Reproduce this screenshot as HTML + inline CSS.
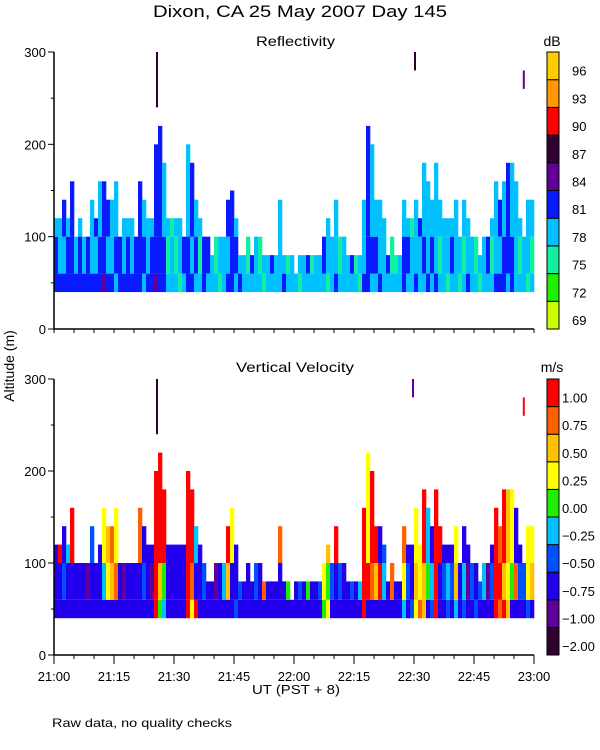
<!DOCTYPE html>
<html><head><meta charset="utf-8"><style>
html,body{margin:0;padding:0;background:#fff;}
svg{display:block;font-family:"Liberation Sans",sans-serif;}
</style></head><body>
<svg id="c" width="600" height="750" xmlns="http://www.w3.org/2000/svg">
<text x="153" y="17" font-size="17" textLength="294" lengthAdjust="spacingAndGlyphs">Dixon, CA 25 May 2007  Day 145</text>
<text x="256" y="46" font-size="14" textLength="79" lengthAdjust="spacingAndGlyphs">Reflectivity</text>
<text x="236" y="372" font-size="14" textLength="118" lengthAdjust="spacingAndGlyphs">Vertical Velocity</text>
<text x="552" y="46" font-size="14" text-anchor="middle">dB</text>
<text x="552" y="372" font-size="14" text-anchor="middle">m/s</text>
<text transform="translate(14,366) rotate(-90)" font-size="14" text-anchor="middle">Altitude (m)</text>
<text x="252" y="694" font-size="13" textLength="88" lengthAdjust="spacingAndGlyphs">UT  (PST + 8)</text>
<text x="52" y="727" font-size="12" textLength="180" lengthAdjust="spacingAndGlyphs">Raw data, no quality checks</text>
<g id="g1"></g>
<g id="g2"></g>
</svg>
<script>
const minutes = 120;
const reflTops = [120,120,140,120,160,100,120,100,100,140,120,160,160,140,140,160,100,120,120,120,100,160,140,120,120,200,220,180,120,120,120,120,100,200,180,140,120,100,100,80,100,100,100,140,150,120,80,80,100,80,100,100,80,80,80,80,140,80,80,80,60,80,80,80,80,80,80,100,120,100,140,100,100,80,80,80,80,140,220,200,140,140,120,80,100,80,80,140,120,120,140,120,180,160,140,180,140,120,120,120,140,100,140,120,100,100,80,100,100,120,160,140,160,180,180,160,120,100,140,140];
const reflLayers = ["443","433","434","443","444","433","443","433","443","433","434","443","544","434","433","343","443","433","443","433","443","444","343","433","443","544","444","443","323","332","323","233","343","443","434","343","323","443","343","333","323","232","333","434","444","343","433","333","323","343","333","323","233","333","343","333","333","433","323","333","323","233","333","343","323","333","333","343","233","333","433","323","332","333","343","323","233","433","444","343","343","433","333","343","323","323","333","443","343","332","433","334","343","433","343","433","323","333","233","343","333","233","323","433","333","323","233","333","343","323","433","434","443","344","443","333","323","333","233","323"];
const reflSpikes = [[25.5,240,300,6],[90,280,300,6],[117.2,260,280,5]];
const velTops = [120,120,140,120,160,100,100,100,100,140,100,120,160,140,140,160,100,100,100,100,100,160,140,120,120,200,220,180,120,120,120,120,120,200,180,140,120,100,80,80,100,100,100,140,160,120,80,80,100,80,100,100,80,80,80,80,140,80,80,60,80,80,80,80,80,80,80,100,120,100,140,100,100,80,80,80,80,160,220,200,140,140,120,80,100,80,80,140,120,120,160,120,180,160,140,180,140,120,120,120,140,100,140,120,100,100,80,100,100,120,160,140,180,180,180,160,120,100,140,140];
const velLayers = ["222","229","232","224","229","222","222","222","212","223","222","222","246","267","278","286","222","212","222","222","222","228","232","222","212","999","579","459","222","222","222","222","222","999","689","924","222","232","222","222","212","222","243","279","226","322","232","222","228","222","232","222","282","222","222","222","228","222","252","222","222","232","222","252","222","222","232","567","657","232","229","232","222","222","232","222","242","999","296","289","279","292","243","222","282","222","222","468","232","322","676","866","779","254","342","999","229","232","342","232","476","222","342","212","232","322","232","242","212","232","999","898","979","767","256","282","232","232","366","276"];
const velSpikes = [[25.5,240,300,0],[89.5,280,300,1],[117.2,260,280,9]];
const reflColors = ["#ccff00","#22ee00","#10f0a0","#00c0ff","#0a1aff","#600098","#300030","#ff0000","#ff9900","#ffcc00"];
const reflLabels = ["69","72","75","78","81","84","87","90","93","96"];
const velColors = ["#300030","#600098","#2200ee","#0050ff","#00c0ff","#20ee00","#ffff00","#ffc000","#ff6000","#ff0000"];
const velLabels = ["-2.00","-1.00","-0.75","-0.50","-0.25","0.00","0.25","0.50","0.75","1.00"];
const yTicks = [0,100,200,300];
const xTickLabels = ["21:00","21:15","21:30","21:45","22:00","22:15","22:30","22:45","23:00"];

const NS="http://www.w3.org/2000/svg";
const X0=54, X1=534;
function xs(m){return X0+m*(X1-X0)/minutes;}
function mk(tag,attrs,parent){const e=document.createElementNS(NS,tag);for(const k in attrs)e.setAttribute(k,attrs[k]);parent.appendChild(e);return e;}

function panel(g,yBottom,yTop,tops,layers,spikes,colors,labels,hasXLabels){
  const ys=h=>yBottom-h*(yBottom-yTop)/300;
  const w=(X1-X0)/minutes;
  tops.forEach((t,i)=>{
    const L=layers[i];
    const bands=[[40,60,+L[0]],[60,100,+L[1]],[100,t,+L[2]]];
    bands.forEach(b=>{
      const lo=b[0],hi=Math.min(b[1],t);
      if(hi<=lo)return;
      const r=mk('rect',{x:xs(i),y:ys(hi),width:w+0.3,height:ys(lo)-ys(hi),fill:colors[b[2]]},g);
      
      
    });
  });
  spikes.forEach(s=>{
    const r=mk('rect',{x:xs(s[0]),y:ys(s[2]),width:2,height:ys(s[1])-ys(s[2]),fill:colors[s[3]]},g);
    
    
  });
  const ax=mk('path',{d:`M${X0} ${ys(300)}V${yBottom}H${X1}`,stroke:'#000','stroke-width':1.5,fill:'none'},g);
  
  
  for(let h=0;h<=300;h+=50){
    const major=h%100===0;
    mk('line',{x1:X0-(major?6:3),x2:X0,y1:ys(h),y2:ys(h),stroke:'#000'},g);
  }
  yTicks.forEach(v=>{
    const t=mk('text',{x:X0-8,y:ys(v)+5,'font-size':13,'text-anchor':'end'},g);
    t.textContent=v;
    
    
  });
  for(let m=0;m<=minutes;m+=5){
    const major=m%15===0;
    mk('line',{x1:xs(m),x2:xs(m),y1:yBottom,y2:yBottom+(hasXLabels&&major?9:4),stroke:'#000'},g);
  }
  if(hasXLabels){
    xTickLabels.forEach((l,i)=>{
      const t=mk('text',{x:xs(i*15),y:yBottom+26,'font-size':13,'text-anchor':'middle'},g);
      t.textContent=l;
      
      
    });
  }
  const bh=(yBottom-ys(300))/colors.length;
  colors.forEach((c,i)=>{
    const y=yBottom-(i+1)*bh;
    const r=mk('rect',{x:547,y:y,width:12,height:bh,fill:c,stroke:'#000','stroke-width':1},g);
    
    
    const t=mk('text',{x:hasXLabels?562:572,y:y+bh-4,'font-size':13},g);
    t.textContent=labels[i].replace('-','\u2212');
    
    
  });
}
panel(document.getElementById('g1'),329,52,reflTops,reflLayers,reflSpikes,reflColors,reflLabels,false);
panel(document.getElementById('g2'),655,379,velTops,velLayers,velSpikes,velColors,velLabels,true);
</script>
</body></html>
